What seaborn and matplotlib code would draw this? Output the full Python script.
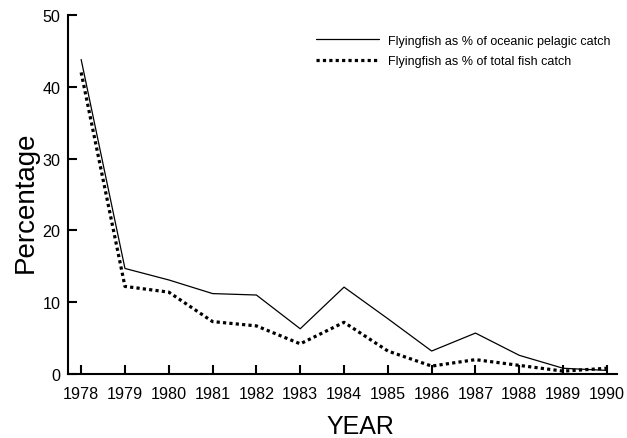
import matplotlib
matplotlib.use("Agg")
import matplotlib.pyplot as plt
import seaborn as sns
import pandas as pd

years = [1978, 1979, 1980, 1981, 1982, 1983, 1984, 1985, 1986, 1987, 1988, 1989, 1990]
pct_oceanic = [43.8, 14.7, 13.1, 11.2, 11.0, 6.3, 12.1, 7.7, 3.2, 5.7, 2.6, 0.8, 0.5]
pct_total = [42.0, 12.2, 11.4, 7.3, 6.7, 4.2, 7.2, 3.2, 1.1, 2.0, 1.2, 0.4, 0.8]
label_oceanic = "Flyingfish as % of oceanic pelagic catch"
label_total = "Flyingfish as % of total fish catch"

sns.set_style("ticks")
plt.rcParams['font.family'] = ['Liberation Sans', 'DejaVu Sans']
plt.rcParams['text.color'] = 'black'
plt.rcParams['axes.labelcolor'] = 'black'
plt.rcParams['xtick.color'] = 'black'
plt.rcParams['ytick.color'] = 'black'

fig = plt.figure(figsize=(6.27, 4.39), dpi=100)
ax = fig.add_axes([68/627, 1-375/439, (617-68)/627, (375-16)/439])

df1 = pd.DataFrame({"YEAR": years, "Percentage": pct_oceanic})
df2 = pd.DataFrame({"YEAR": years, "Percentage": pct_total})
sns.lineplot(data=df1, x="YEAR", y="Percentage", ax=ax, color="black", linewidth=0.9, label=label_oceanic)
sns.lineplot(data=df2, x="YEAR", y="Percentage", ax=ax, color="black", linewidth=2.3,
             linestyle=(0, (1, 1)), label=label_total)

ax.set_xlim(1977.7, 1990.23)
ax.set_ylim(0, 50)
ax.set_xticks(years)
ax.set_xticklabels([str(y) for y in years])
ax.set_yticks([0, 10, 20, 30, 40, 50])
ax.tick_params(axis="both", direction="in", length=6.5, width=1.5, labelsize=11.6, colors="black")
ax.tick_params(axis="y", pad=5.3)
ax.tick_params(axis="x", pad=9)
for s in ["top", "right"]:
    ax.spines[s].set_visible(False)
for s in ["left", "bottom"]:
    ax.spines[s].set_linewidth(1.5)
    ax.spines[s].set_color("black")

ax.set_xlabel("YEAR", fontsize=18)
ax.set_ylabel("Percentage", fontsize=20)
ax.xaxis.set_label_coords(0.533, -0.111)
ax.yaxis.set_label_coords(-0.053, 0.482)

leg = ax.legend(loc="upper right", frameon=False, fontsize=9, handlelength=5.1,
                bbox_to_anchor=(1.009, 0.976), labelspacing=0.65, handletextpad=0.7)

fig.savefig("out.png", dpi=100)
